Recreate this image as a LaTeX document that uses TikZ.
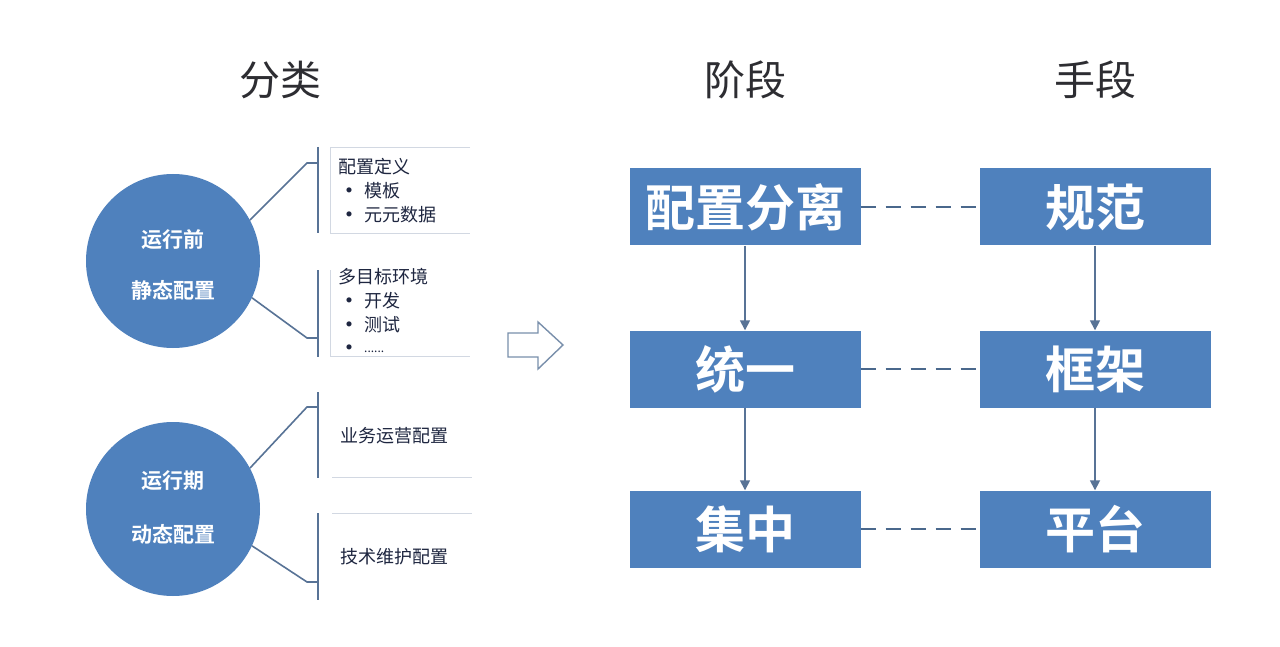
\documentclass[tikz,border=0pt]{standalone}
\usepackage{fontspec}
\setmainfont{Noto Sans CJK SC}[BoldFont=Noto Sans CJK SC Bold]
\usetikzlibrary{arrows.meta}
\definecolor{boxblue}{RGB}{79,129,189}
\definecolor{linegray}{RGB}{88,115,150}
\definecolor{dashcol}{RGB}{74,104,140}
\definecolor{titlecol}{RGB}{45,45,50}
\definecolor{listcol}{RGB}{30,38,64}
\definecolor{faint}{RGB}{210,216,226}
\begin{document}
\begin{tikzpicture}[x=1pt,y=-1pt,
  stagebox/.style={rectangle,fill=boxblue,minimum width=231pt,minimum height=77pt,inner sep=0pt,text=white,font=\fontsize{50}{54}\selectfont\bfseries},
  bigcircle/.style={circle,fill=boxblue,minimum size=174pt,inner sep=0pt},
  circtext/.style={text=white,font=\fontsize{21}{23}\selectfont\bfseries,inner sep=0pt},
  title/.style={text=titlecol,font=\fontsize{41}{45}\selectfont,inner sep=0pt},
  listtext/.style={text=listcol,font=\fontsize{18}{20}\selectfont,inner sep=0pt,anchor=west},
  bullet/.style={text=listcol,font=\fontsize{24}{26}\selectfont,inner sep=0pt,anchor=west},
  bracket/.style={draw=linegray,line width=1.6pt},
  flow/.style={draw=linegray,line width=1.6pt,-{Triangle[length=10pt,width=10pt]}},
  link/.style={draw=dashcol,line width=2.8pt,dash pattern=on 15pt off 10pt},
  faintline/.style={draw=faint,line width=0.8pt}
]
\useasboundingbox[fill=white] (0,0) rectangle (1280,647);

% titles
\node[title] (t1) at (280,80) {分类};
\node[title] (t2) at (745,80) {阶段};
\node[title] (t3) at (1095,80) {手段};

% circles
\node[bigcircle] (c1) at (173,261) {};
\node[circtext] (c1a) at (173,240) {运行前};
\node[circtext] (c1b) at (173,290) {静态配置};
\node[bigcircle] (c2) at (173,509) {};
\node[circtext] (c2a) at (173,481) {运行期};
\node[circtext] (c2b) at (173,534) {动态配置};

% brackets group 1
\coordinate (b1u) at (307,163);
\coordinate (b1uh) at (318,163);
\coordinate (v1t) at (318,147);
\coordinate (v1b) at (318,233);
\coordinate (b1l) at (307,338);
\coordinate (b1lh) at (318,338);
\coordinate (v2t) at (318,270);
\coordinate (v2b) at (318,357);
\draw[bracket] (c1.28) -- (b1u) -- (b1uh);
\draw[bracket] (v1t) -- (v1b);
\draw[bracket] (c1.-25) -- (b1l) -- (b1lh);
\draw[bracket] (v2t) -- (v2b);

% brackets group 2
\coordinate (b2u) at (307,407);
\coordinate (b2uh) at (318,407);
\coordinate (v3t) at (318,392);
\coordinate (v3b) at (318,478);
\coordinate (b2l) at (307,582);
\coordinate (b2lh) at (318,582);
\coordinate (v4t) at (318,513);
\coordinate (v4b) at (318,600);
\draw[bracket] (c2.28) -- (b2u) -- (b2uh);
\draw[bracket] (v3t) -- (v3b);
\draw[bracket] (c2.-25) -- (b2l) -- (b2lh);
\draw[bracket] (v4t) -- (v4b);

% faint frames
\draw[faintline] (470,147) -- (330,147) -- (330,233) -- (470,233);
\draw[faintline] (330,270) -- (330,356) -- (470,356);
\draw[faintline] (332,477) -- (472,477);
\draw[faintline] (332,513) -- (472,513);

% list texts
\node[listtext] (l1) at (338,167) {配置定义};
\node[bullet] (l1b1) at (337,194) {•};
\node[listtext] (l1i1) at (364,191) {模板};
\node[bullet] (l1b2) at (337,218) {•};
\node[listtext] (l1i2) at (364,215) {元元数据};
\node[listtext] (l2) at (338,277) {多目标环境};
\node[bullet] (l2b1) at (337,304) {•};
\node[listtext] (l2i1) at (364,301) {开发};
\node[bullet] (l2b2) at (337,328) {•};
\node[listtext] (l2i2) at (364,325) {测试};
\node[bullet] (l2b3) at (337,351) {•};
\node[listtext,font=\fontsize{12}{14}\selectfont] (l2i3) at (364,352) {......};
\node[listtext] (l3) at (340,436) {业务运营配置};
\node[listtext] (l4) at (340,557) {技术维护配置};

% hollow arrow
\draw[draw=linegray!80,line width=1.4pt,fill=white,line join=miter]
  (508,333) -- (538,333) -- (538,322) -- (563,345) -- (538,369) -- (538,357) -- (508,357) -- cycle;

% stage boxes
\node[stagebox] (s1) at (745,207) {配置分离};
\node[stagebox] (s2) at (745,369) {统一};
\node[stagebox] (s3) at (745,529) {集中};
\node[stagebox] (m1) at (1095,207) {规范};
\node[stagebox] (m2) at (1095,369) {框架};
\node[stagebox] (m3) at (1095,529) {平台};

\draw[flow] (s1) -- (s2);
\draw[flow] (s2) -- (s3);
\draw[flow] (m1) -- (m2);
\draw[flow] (m2) -- (m3);

\draw[link] (s1) -- (m1);
\draw[link] (s2) -- (m2);
\draw[link] (s3) -- (m3);
\end{tikzpicture}
\end{document}
